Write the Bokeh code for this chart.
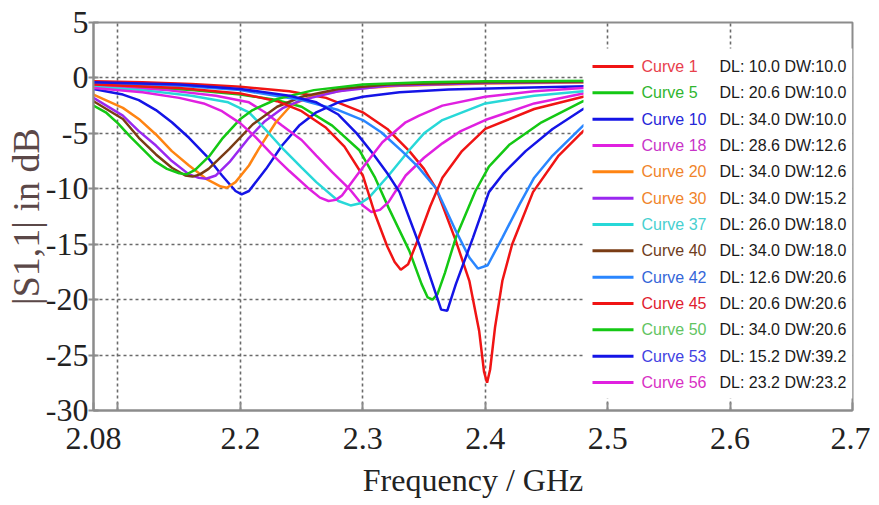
from bokeh.plotting import figure
from bokeh.models import Range1d, FixedTicker
from bokeh.embed import file_html
from bokeh.resources import INLINE
from bokeh.core.properties import value

# ---------------- data ----------------
f_c1 = [2.08, 2.12, 2.16, 2.20, 2.24, 2.27, 2.30, 2.32, 2.338, 2.35, 2.36, 2.376, 2.387, 2.395,
        2.399, 2.4015, 2.404, 2.408, 2.414, 2.422, 2.439, 2.46, 2.48, 2.50]
s_c1 = [-0.3, -0.4, -0.55, -0.8, -1.2, -1.8, -3.1, -4.6, -6.6, -8.2, -10.0, -14.7, -18.3, -22.8,
        -26.5, -27.5, -26.3, -22.5, -18.3, -15.0, -10.3, -7.0, -4.8, -3.6]

f_c5 = [2.08, 2.12, 2.16, 2.20, 2.23, 2.25, 2.275, 2.297, 2.31, 2.321, 2.338, 2.348, 2.353, 2.357,
        2.361, 2.367, 2.376, 2.392, 2.403, 2.42, 2.446, 2.48, 2.50]
s_c5 = [-0.7, -0.85, -1.1, -1.5, -2.0, -2.6, -4.3, -6.5, -9.0, -11.7, -15.6, -18.6, -19.8, -20.0,
        -19.5, -17.6, -14.4, -10.2, -8.0, -6.0, -4.0, -2.1, -1.6]

f_c10 = [2.08, 2.104, 2.117, 2.131, 2.144, 2.158, 2.172, 2.185, 2.196, 2.201, 2.207, 2.221, 2.234,
         2.248, 2.262, 2.28, 2.30, 2.33, 2.37, 2.42, 2.50]
s_c10 = [-1.0, -1.5, -2.0, -2.9, -4.0, -5.4, -7.0, -8.8, -10.2, -10.5, -10.2, -8.2, -6.1,
         -4.3, -3.1, -2.2, -1.7, -1.3, -1.05, -0.9, -0.7]

f_c18 = [2.08, 2.14, 2.18, 2.207, 2.22, 2.234, 2.25, 2.262, 2.275, 2.289, 2.30, 2.307, 2.314, 2.321,
         2.335, 2.35, 2.365, 2.38, 2.40, 2.44, 2.48, 2.50]
s_c18 = [-0.7, -1.1, -1.6, -2.2, -3.1, -4.3, -5.6, -7.0, -8.5, -10.0, -11.5, -12.1, -11.9, -11.2,
         -8.8, -7.2, -5.9, -4.8, -3.8, -2.3, -1.4, -1.2]

f_c20 = [2.08, 2.104, 2.117, 2.131, 2.144, 2.158, 2.172, 2.184, 2.189, 2.196, 2.207, 2.215, 2.229,
         2.242, 2.26, 2.29, 2.33, 2.40, 2.50]
s_c20 = [-1.5, -2.7, -3.7, -5.1, -6.6, -7.9, -9.1, -9.8, -9.9, -9.4, -7.9, -6.4, -4.0,
         -2.4, -1.6, -1.0, -0.7, -0.5, -0.4]

f_c30 = [2.08, 2.104, 2.117, 2.131, 2.144, 2.158, 2.166, 2.172, 2.18, 2.191, 2.207, 2.22, 2.235,
         2.25, 2.28, 2.32, 2.40, 2.50]
s_c30 = [-1.8, -3.4, -4.8, -6.1, -7.5, -8.7, -9.0, -9.1, -8.8, -7.6, -5.4, -3.9, -2.7,
         -2.0, -1.2, -0.7, -0.45, -0.35]

f_c37 = [2.08, 2.12, 2.16, 2.19, 2.207, 2.22, 2.234, 2.25, 2.262, 2.28, 2.29, 2.298, 2.305, 2.321,
         2.338, 2.35, 2.365, 2.40, 2.44, 2.48, 2.50]
s_c37 = [-0.8, -1.1, -1.6, -2.2, -3.1, -4.6, -6.3, -8.1, -9.4, -11.1, -11.5, -11.3, -10.8, -8.8,
         -6.5, -5.0, -3.8, -2.3, -1.6, -1.2, -1.0]

f_c40 = [2.08, 2.104, 2.117, 2.131, 2.144, 2.155, 2.161, 2.167, 2.174, 2.191, 2.21, 2.23, 2.25,
         2.28, 2.32, 2.40, 2.50]
s_c40 = [-2.1, -3.7, -5.4, -6.9, -8.1, -8.8, -8.9, -8.7, -8.2, -6.4, -4.2, -2.6, -1.7,
         -1.0, -0.6, -0.4, -0.3]

f_c42 = [2.08, 2.15, 2.20, 2.25, 2.28, 2.30, 2.315, 2.332, 2.345, 2.36, 2.376, 2.387, 2.394, 2.402,
         2.414, 2.428, 2.44, 2.455, 2.48, 2.50]
s_c42 = [-0.5, -0.7, -1.1, -2.0, -2.9, -3.8, -4.9, -6.6, -8.0, -10.0, -13.8, -16.2, -17.2, -16.9,
         -14.4, -11.4, -9.0, -7.0, -4.3, -3.3]

f_c45 = [2.08, 2.15, 2.20, 2.23, 2.25, 2.27, 2.285, 2.30, 2.31, 2.32, 2.326, 2.331, 2.337, 2.345,
         2.355, 2.365, 2.381, 2.40, 2.44, 2.48, 2.50]
s_c45 = [-0.6, -0.9, -1.4, -2.1, -3.0, -4.5, -6.2, -8.8, -12.3, -15.2, -16.6, -17.3, -16.8, -14.6,
         -11.6, -9.0, -6.6, -4.6, -2.8, -1.7, -1.4]

f_c50 = [2.08, 2.09, 2.10, 2.11, 2.12, 2.13, 2.14, 2.15, 2.156, 2.163, 2.175, 2.185, 2.20, 2.21,
         2.23, 2.26, 2.30, 2.35, 2.40, 2.50]
s_c50 = [-2.5, -3.1, -4.1, -5.3, -6.4, -7.5, -8.2, -8.6, -8.7, -8.3, -7.0, -5.5, -3.7, -2.9,
         -1.9, -1.1, -0.6, -0.4, -0.3, -0.25]

f_c53 = [2.08, 2.15, 2.20, 2.24, 2.262, 2.28, 2.295, 2.308, 2.32, 2.33, 2.346, 2.357, 2.364, 2.369,
         2.376, 2.39, 2.403, 2.415, 2.433, 2.455, 2.48, 2.50]
s_c53 = [-0.4, -0.6, -1.0, -1.6, -2.2, -3.3, -5.0, -6.8, -8.6, -10.3, -15.0, -18.6, -20.9, -21.0,
         -18.6, -14.4, -10.3, -8.6, -6.6, -4.6, -2.8, -2.2]

f_c56 = [2.08, 2.12, 2.15, 2.17, 2.185, 2.20, 2.212, 2.225, 2.24, 2.255, 2.265, 2.272, 2.278, 2.283,
         2.297, 2.316, 2.335, 2.346, 2.365, 2.40, 2.44, 2.48, 2.50]
s_c56 = [-0.9, -1.3, -1.8, -2.3, -3.0, -4.1, -5.3, -6.8, -8.4, -9.9, -10.8, -11.1, -11.0, -10.6,
         -8.5, -5.8, -4.0, -3.4, -2.5, -1.7, -1.2, -0.9, -0.8]

curve_names = ["Curve 1", "Curve 5", "Curve 10", "Curve 18", "Curve 20", "Curve 30", "Curve 37",
               "Curve 40", "Curve 42", "Curve 45", "Curve 50", "Curve 53", "Curve 56"]
curve_params = ["DL: 10.0 DW:10.0", "DL: 20.6 DW:10.0", "DL: 34.0 DW:10.0", "DL: 28.6 DW:12.6",
                "DL: 34.0 DW:12.6", "DL: 34.0 DW:15.2", "DL: 26.0 DW:18.0", "DL: 34.0 DW:18.0",
                "DL: 12.6 DW:20.6", "DL: 20.6 DW:20.6", "DL: 34.0  DW:20.6", "DL: 15.2 DW:39.2",
                "DL: 23.2 DW:23.2"]
curve_freqs = [f_c1, f_c5, f_c10, f_c18, f_c20, f_c30, f_c37, f_c40, f_c42, f_c45, f_c50, f_c53, f_c56]
curve_vals = [s_c1, s_c5, s_c10, s_c18, s_c20, s_c30, s_c37, s_c40, s_c42, s_c45, s_c50, s_c53, s_c56]

line_colors = ["#f01414", "#14c814", "#1414e6", "#e020e0", "#ff8412", "#9a28f0", "#28d8d8",
               "#7a3c14", "#2a86ff", "#f01414", "#14c814", "#1414e6", "#e020e0"]
text_colors = ["#e8404c", "#2fb52f", "#2626d8", "#c834c8", "#f0842a", "#f0842a", "#48d0d0",
               "#6e3c20", "#3466d8", "#e0202e", "#62c462", "#4242e2", "#d830c4"]

x_ticks = [2.08, 2.1, 2.2, 2.3, 2.4, 2.5, 2.6, 2.7]
x_tick_labels = ["2.08", "", "2.2", "2.3", "2.4", "2.5", "2.6", "2.7"]
x_grid = [2.1, 2.2, 2.3, 2.4, 2.5, 2.6]
y_ticks = [5, 0, -5, -10, -15, -20, -25, -30]
y_tick_labels = ["5", "0", "-5", "-10", "-15", "-20", "-25", "-30"]
y_grid = [0, -5, -10, -15, -20, -25]

# ---------------- layout ----------------
FW, FH = 759, 388
BL, BR, BT, BB = 93, 18, 22, 80
X0, X1, Y0, Y1 = 2.08, 2.7, -30, 5

p = figure(frame_width=FW, frame_height=FH, min_border_left=BL, min_border_right=BR,
           min_border_top=BT, min_border_bottom=BB,
           x_range=Range1d(X0, X1), y_range=Range1d(Y0, Y1),
           output_backend="svg", toolbar_location=None)
p.background_fill_color = "white"
p.border_fill_color = "white"
p.outline_line_color = "#8c8c8c"
p.outline_line_width = 2


def px2x(px):  # picture pixel -> data x (layout helper for the legend box)
    return X0 + (px - BL) * (X1 - X0) / FW


def py2y(py):
    return Y1 - (py - BT) * (Y1 - Y0) / FH


p.xaxis.ticker = FixedTicker(ticks=x_ticks)
p.xaxis.major_label_overrides = {t: l for t, l in zip(x_ticks, x_tick_labels)}
p.yaxis.ticker = FixedTicker(ticks=y_ticks)
p.yaxis.major_label_overrides = {t: l for t, l in zip(y_ticks, y_tick_labels)}
p.xgrid.ticker = FixedTicker(ticks=x_grid)
p.ygrid.ticker = FixedTicker(ticks=y_grid)
for g in (p.xgrid, p.ygrid):
    g.grid_line_color = "#6a6a6a"
    g.grid_line_dash = "3 3"
    g.grid_line_width = 1.6

for ax in (p.xaxis, p.yaxis):
    ax.axis_line_color = "#8c8c8c"
    ax.axis_line_width = 2
    ax.major_tick_line_color = "#8c8c8c"
    ax.major_tick_line_width = 2
    ax.minor_tick_line_color = None
    ax.major_label_text_font = "Liberation Serif"
    ax.major_label_text_font_size = "32px"
    ax.major_label_text_color = "#222222"
    ax.axis_label_text_font = "Liberation Serif"
    ax.axis_label_text_font_style = "normal"

p.xaxis.major_tick_in = 8
p.xaxis.major_tick_out = 0
p.xaxis.major_label_standoff = 17
p.xaxis.axis_label = "Frequency / GHz"
p.xaxis.axis_label_text_font_size = "32px"
p.xaxis.axis_label_text_color = "#222222"
p.xaxis.axis_label_standoff = 10

p.yaxis.major_tick_in = 5
p.yaxis.major_tick_out = 5
p.yaxis.major_label_standoff = 0
p.yaxis.axis_label = "|S1,1| in dB"
p.yaxis.axis_label_text_font_size = "38px"
p.yaxis.axis_label_text_color = "#5b4848"
p.yaxis.axis_label_standoff = -4

# curves
for fx, sv, c in zip(curve_freqs, curve_vals, line_colors):
    p.line(fx, sv, line_color=c, line_width=2.5)

# legend (drawn manually so that each label has its own colour)
p.quad(left=[px2x(583)], right=[px2x(852)], top=[py2y(48)], bottom=[py2y(398)],
       fill_color="white", line_color=None)
n = len(curve_names)
ys = [py2y(66 + i * 26.33) for i in range(n)]
p.segment(x0=[px2x(592)] * n, x1=[px2x(633)] * n, y0=ys, y1=ys,
          line_color=line_colors, line_width=3)
p.text(x=[px2x(641)] * n, y=ys, text=curve_names, text_color=text_colors,
       text_font=value("Liberation Sans"), text_font_size="16px",
       text_baseline="middle", text_align="left")
p.text(x=[px2x(719)] * n, y=ys, text=curve_params, text_color="#1a1a1a",
       text_font=value("Liberation Sans"), text_font_size="16px",
       text_baseline="middle", text_align="left")

open("out.html", "w").write(file_html(p, INLINE))
